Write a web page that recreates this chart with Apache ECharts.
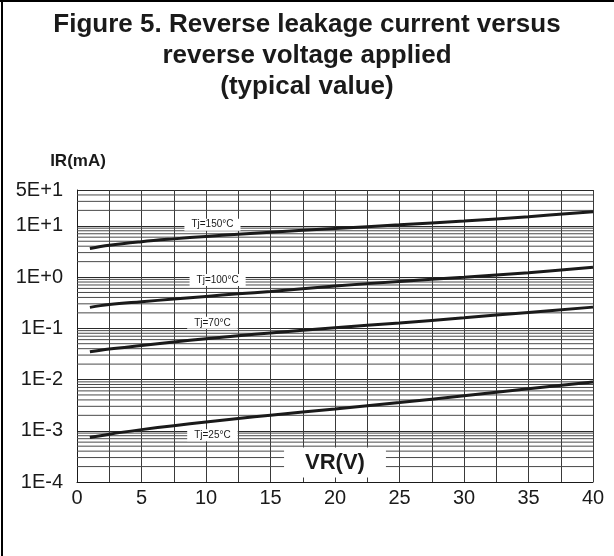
<!DOCTYPE html>
<html>
<head>
<meta charset="utf-8">
<script src="https://cdn.jsdelivr.net/npm/echarts@6/dist/echarts.min.js"></script>
<style>html,body{margin:0;padding:0;background:#fff;}#c{width:614px;height:556px;}</style>
</head>
<body>
<div id="c"></div>
<script>
// ---- data ----
const voltages = [1, 2.5, 5, 7.5, 10, 12.5, 15, 20, 25, 30, 35, 40];
const tj150 = [3.60, 4.17, 4.90, 5.56, 6.21, 6.85, 7.50, 8.87, 10.47, 12.42, 15.07, 18.88];
const tj100 = [0.256, 0.290, 0.330, 0.372, 0.419, 0.470, 0.525, 0.668, 0.822, 0.989, 1.216, 1.549];
const tj70 = [0.0347, 0.0394, 0.0462, 0.0540, 0.0624, 0.0716, 0.0813, 0.1023, 0.1274, 0.1603, 0.2042, 0.2588];
const tj25 = [0.000738, 0.000859, 0.001052, 0.001259, 0.001486, 0.001738, 0.002014, 0.002661, 0.003548, 0.004842, 0.006607, 0.00899];
const seriesNames = ['Tj=150°C', 'Tj=100°C', 'Tj=70°C', 'Tj=25°C'];
// label anchor points (VR, IR) for the curve names
const labelAnchors = [[10.5, 10.5], [10.9, 0.88], [10.5, 0.128], [10.5, 0.00082]];
const minorMantissas = [2, 3, 4, 5, 6, 7, 8, 9];
const decades = [-4, -3, -2, -1, 0, 1];
const yMin = 1e-4, yMax = 50;
const xTitle = 'VR(V)', yTitle = 'IR(mA)';
const titleText = 'Figure 5. Reverse leakage current versus\nreverse voltage applied\n(typical value)';

// ---- build ----
const FONT = 'Liberation Sans, Arial, Helvetica, sans-serif';
const minorLines = [];
decades.forEach(e => minorMantissas.forEach(m => {
  const v = m * Math.pow(10, e);
  if (v < yMax) minorLines.push(v);
}));
function pairs(ys) { return voltages.map((x, i) => [x, ys[i]]); }
function fmtE(v) {
  const e = Math.floor(Math.log10(v) + 1e-9);
  const m = Math.round(v / Math.pow(10, e));
  return m + 'E' + (e >= 0 ? '+' : '-') + Math.abs(e);
}
const curveSeries = [tj150, tj100, tj70, tj25].map((ys, i) => ({
  name: seriesNames[i], type: 'line', data: pairs(ys), smooth: 0.4,
  symbol: 'none', z: 4, silent: true,
  lineStyle: { color: '#1a1a1a', width: 3 }
}));
// minor gridlines: one two-point line per value, spanning the x range
const minorSeries = minorLines.map(v => ({
  type: 'line', data: [[0, v], [40, v]], symbol: 'none', z: 1, silent: true,
  lineStyle: { color: '#4a4a4a', width: 1 }
}));

const chart = echarts.init(document.getElementById('c'), null, { renderer: 'canvas' });
chart.setOption({
  animation: false,
  backgroundColor: '#fff',
  title: {
    text: titleText, left: 'center', top: 4,
    textStyle: { fontFamily: FONT, fontWeight: 'bold', fontSize: 26, lineHeight: 31, color: '#1a1a1a' }
  },
  graphic: [
    { type: 'line', shape: { x1: 0, y1: 1, x2: 614, y2: 1 }, style: { stroke: '#000', lineWidth: 2 } },
    { type: 'line', shape: { x1: 2, y1: 0, x2: 2, y2: 556 }, style: { stroke: '#000', lineWidth: 2 } }
  ],
  grid: { left: 77, right: 21, top: 190, bottom: 74, containLabel: false },
  xAxis: {
    type: 'value', min: 0, max: 40, interval: 2.5,
    axisLine: { show: true, lineStyle: { color: '#1a1a1a', width: 1 } },
    axisTick: { show: false },
    splitLine: { show: true, lineStyle: { color: '#3a3a3a', width: 1 } },
    axisLabel: {
      margin: 6, fontFamily: FONT, fontSize: 20, color: '#1a1a1a',
      formatter: v => (v % 5 === 0 ? String(v) : '')
    }
  },
  yAxis: {
    type: 'log', logBase: 10, min: yMin, max: yMax,
    name: yTitle, nameLocation: 'end', nameGap: 20,
    nameTextStyle: { fontFamily: FONT, fontWeight: 'bold', fontSize: 17, color: '#1a1a1a', align: 'center', padding: [0, 0, 0, 2] },
    axisLine: { show: true, lineStyle: { color: '#1a1a1a', width: 1 } },
    axisTick: { show: false },
    splitLine: { show: true, lineStyle: { color: '#2a2a2a', width: 1 } },
    axisLabel: { margin: 14, fontFamily: FONT, fontSize: 20, color: '#1a1a1a', formatter: fmtE }
  },
  series: [
    ...minorSeries,
    ...curveSeries,
    {
      type: 'scatter', z: 6, silent: true, symbolSize: 0,
      itemStyle: { opacity: 1 },
      data: labelAnchors.map((p, i) => ({ value: p, name: seriesNames[i] })),
      label: {
        show: true, position: 'inside', formatter: '{b}', opacity: 1,
        fontFamily: FONT, fontSize: 10, color: '#1a1a1a',
        backgroundColor: '#fff', padding: [1, 7]
      }
    },
    {
      type: 'scatter', z: 6, silent: true, symbolSize: 0,
      itemStyle: { opacity: 1 },
      data: [{ value: [20, 2.4e-4], name: xTitle }],
      label: {
        show: true, position: 'inside', formatter: '{b}', opacity: 1,
        fontFamily: FONT, fontSize: 22, fontWeight: 'bold', color: '#1a1a1a',
        backgroundColor: '#fff', padding: [4, 21]
      }
    }
  ]
});
</script>
</body>
</html>
